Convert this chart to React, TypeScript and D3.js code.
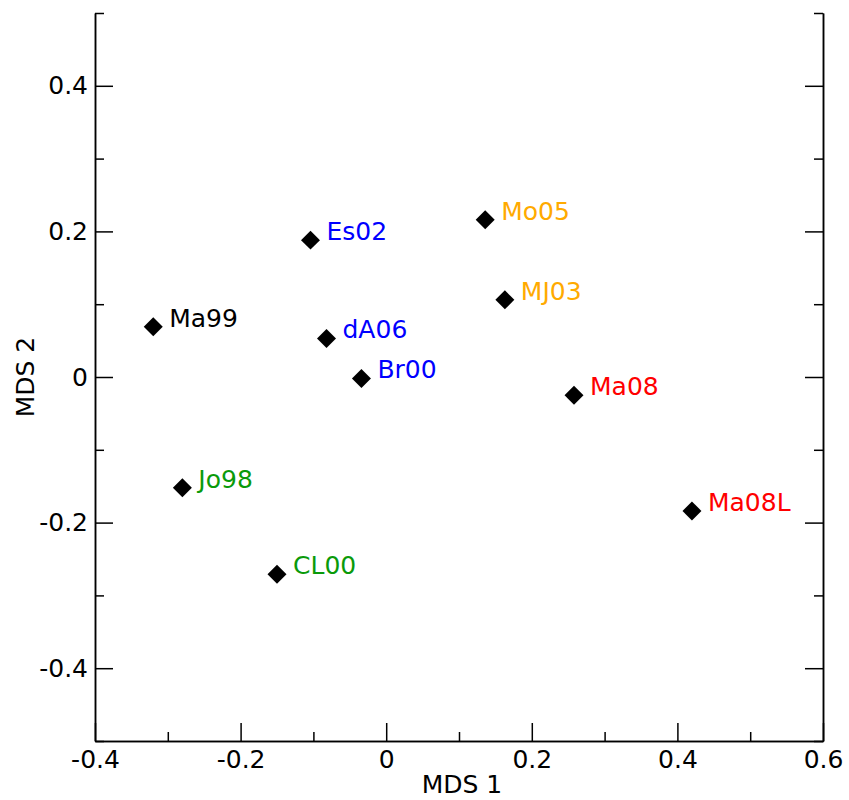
import React, { useEffect, useRef } from 'react';
import * as d3 from 'd3';

// sample names, MDS coordinates and label colours
const names = ['Ma99', 'Es02', 'Mo05', 'MJ03', 'dA06', 'Br00', 'Ma08', 'Ma08L', 'Jo98', 'CL00'];
const mds1 = [-0.320, -0.104, 0.136, 0.163, -0.082, -0.034, 0.258, 0.420, -0.280, -0.150];
const mds2 = [0.069, 0.188, 0.216, 0.106, 0.053, -0.002, -0.025, -0.184, -0.152, -0.271];
const colors = ['#000000', '#0000ff', '#ffaa00', '#ffaa00', '#0000ff', '#0000ff', '#ff0000', '#ff0000', '#0a9a0a', '#0a9a0a'];

const xMajor = [-0.4, -0.2, 0, 0.2, 0.4, 0.6];
const xMinor = [-0.3, -0.1, 0.1, 0.3, 0.5];
const yMajor = [-0.4, -0.2, 0, 0.2, 0.4];
const yMinor = [-0.5, -0.3, -0.1, 0.1, 0.3, 0.5];

const WIDTH = 849;
const HEIGHT = 800;
const margin = { top: 13, right: 26, bottom: 59, left: 95 };
const FONT = 'DejaVu Sans, sans-serif';

const fmt = (d: number) => String(+d.toFixed(1));

export default function App() {
  const svgRef = useRef<SVGSVGElement>(null);

  useEffect(() => {
    const width = WIDTH - margin.left - margin.right;
    const height = HEIGHT - margin.top - margin.bottom;
    d3.select(svgRef.current).selectAll('*').remove();
    const svg = d3.select(svgRef.current)
      .append('g')
      .attr('transform', `translate(${margin.left},${margin.top})`);

    const x = d3.scaleLinear().domain([-0.4, 0.6]).range([0, width]);
    const y = d3.scaleLinear().domain([-0.5, 0.5]).range([height, 0]);

    const styleAxis = (g: any) => {
      g.select('.domain').attr('stroke', '#000').attr('stroke-width', 1.5);
      g.selectAll('.tick line').attr('stroke', '#000').attr('stroke-width', 1.5);
      g.selectAll('.tick text').attr('font-size', 25).attr('font-family', FONT).attr('fill', '#000');
    };

    // bottom axis, ticks pointing inward
    svg.append('g')
      .attr('transform', `translate(0,${height})`)
      .call(d3.axisBottom(x).tickValues(xMajor).tickSizeInner(-18).tickSizeOuter(0)
        .tickPadding(9).tickFormat((d: any) => fmt(d)))
      .call(styleAxis)
      .selectAll('.tick text').attr('dy', '0.71em');
    svg.append('g')
      .attr('transform', `translate(0,${height})`)
      .call(d3.axisBottom(x).tickValues(xMinor).tickSizeInner(-9).tickSizeOuter(0).tickFormat(() => ''))
      .call(styleAxis);

    // left axis
    svg.append('g')
      .call(d3.axisLeft(y).tickValues(yMajor).tickSizeInner(-18).tickSizeOuter(0)
        .tickPadding(7).tickFormat((d: any) => fmt(d)))
      .call(styleAxis);
    svg.append('g')
      .call(d3.axisLeft(y).tickValues(yMinor).tickSizeInner(-9).tickSizeOuter(0).tickFormat(() => ''))
      .call(styleAxis);

    // right axis, no labels
    svg.append('g')
      .attr('transform', `translate(${width},0)`)
      .call(d3.axisRight(y).tickValues(yMajor).tickSizeInner(-18).tickSizeOuter(0).tickFormat(() => ''))
      .call(styleAxis);
    svg.append('g')
      .attr('transform', `translate(${width},0)`)
      .call(d3.axisRight(y).tickValues(yMinor).tickSizeInner(-9).tickSizeOuter(0).tickFormat(() => ''))
      .call(styleAxis);

    // axis titles
    svg.append('text')
      .attr('x', width / 2 + 3)
      .attr('y', height + 52)
      .attr('text-anchor', 'middle')
      .attr('font-family', FONT)
      .attr('font-size', 25)
      .text('MDS 1');
    svg.append('text')
      .attr('transform', `translate(${34 - margin.left},${height / 2}) rotate(-90)`)
      .attr('text-anchor', 'middle')
      .attr('font-family', FONT)
      .attr('font-size', 25)
      .text('MDS 2');

    const pts = names.map((n, i) => ({ name: n, mx: mds1[i], my: mds2[i], color: colors[i] }));
    const diamond = d3.symbol().type(d3.symbolSquare).size(180);

    svg.selectAll('path.pt')
      .data(pts)
      .enter()
      .append('path')
      .attr('class', 'pt')
      .attr('d', diamond as any)
      .attr('transform', (d) => `translate(${x(d.mx)},${y(d.my)}) rotate(45)`)
      .attr('fill', '#000');

    svg.selectAll('text.lbl')
      .data(pts)
      .enter()
      .append('text')
      .attr('class', 'lbl')
      .attr('x', (d) => x(d.mx) + 16)
      .attr('y', (d) => y(d.my))
      .attr('font-family', FONT)
      .attr('font-size', 25)
      .attr('fill', (d) => d.color)
      .text((d) => d.name);
  }, []);

  return (
    <svg
      ref={svgRef}
      width={WIDTH}
      height={HEIGHT}
      style={{ position: 'absolute', left: 0, top: 0, background: '#fff' }}
    />
  );
}
